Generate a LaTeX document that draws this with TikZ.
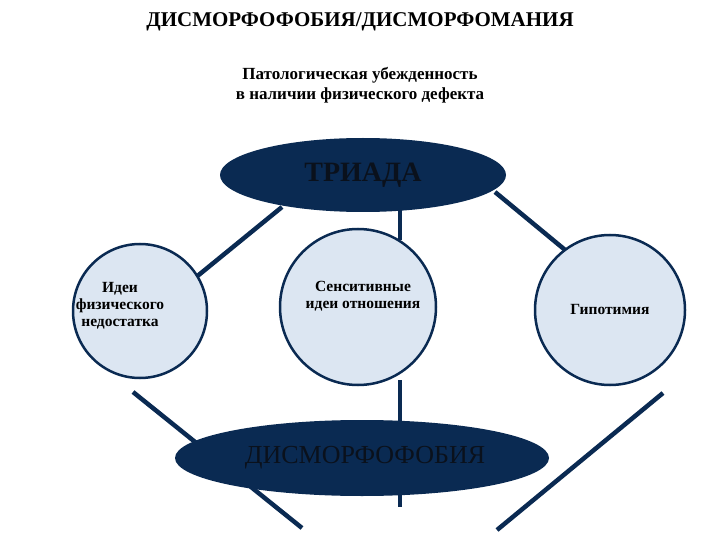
\documentclass[tikz,border=0pt]{standalone}
\usepackage{fontspec}
\setmainfont{Liberation Serif}
\definecolor{navy}{HTML}{0A2A52}
\definecolor{cfill}{HTML}{DCE6F2}
\definecolor{dtext}{HTML}{0A111C}
\begin{document}
\begin{tikzpicture}[x=1pt,y=-1pt,
  link/.style={navy,line width=4.5pt},
  ctext/.style={align=center,font=\bfseries\fontsize{15.5}{17}\selectfont},
  circ/.style={circle,draw=navy,line width=2.5pt,fill=cfill,ctext}]
\useasboundingbox (0,0) rectangle (720,540);
\node[font=\bfseries\fontsize{21}{24}\selectfont] (title) at (360,22) {ДИСМОРФОФОБИЯ/ДИСМОРФОМАНИЯ};
\node[font=\bfseries\fontsize{17}{20}\selectfont,align=center] (sub) at (360,85) {Патологическая убежденность\\в наличии физического дефекта};
\coordinate (a1) at (282,207); \coordinate (a2) at (195,278);
\coordinate (b1) at (400,210); \coordinate (b2) at (400,240);
\coordinate (c1) at (495,192); \coordinate (c2) at (570,254);
\coordinate (d1) at (133,392); \coordinate (d2) at (302,528);
\coordinate (e1) at (400,380); \coordinate (e2) at (400,507);
\coordinate (f1) at (663,393); \coordinate (f2) at (497,530);
\draw[link] (a1)--(a2); \draw[link] (b1)--(b2); \draw[link] (c1)--(c2);
\draw[link] (d1)--(d2); \draw[link] (e1)--(e2); \draw[link] (f1)--(f2);
\fill[navy] (363,175) ellipse [x radius=143,y radius=37];
\node[circ,minimum size=134pt,inner sep=0pt] (L) at (140,311) {};
\node[ctext] (Lt) at (120,306) {Идеи\\физического\\недостатка};
\node[circ,minimum size=156pt] (M) at (358,307) {};
\node[ctext] (Mt) at (363,296) {Сенситивные\\идеи отношения};
\node[circ,minimum size=150pt] (R) at (610,310) {Гипотимия};
\fill[navy] (362,458) ellipse [x radius=187,y radius=38];
\node[font=\bfseries\fontsize{28}{30}\selectfont,text=dtext] (triT) at (363,175) {ТРИАДА};
\node[font=\fontsize{26}{28}\selectfont,text=dtext] (disT) at (365,458) {ДИСМОРФОФОБИЯ};
\end{tikzpicture}
\end{document}
